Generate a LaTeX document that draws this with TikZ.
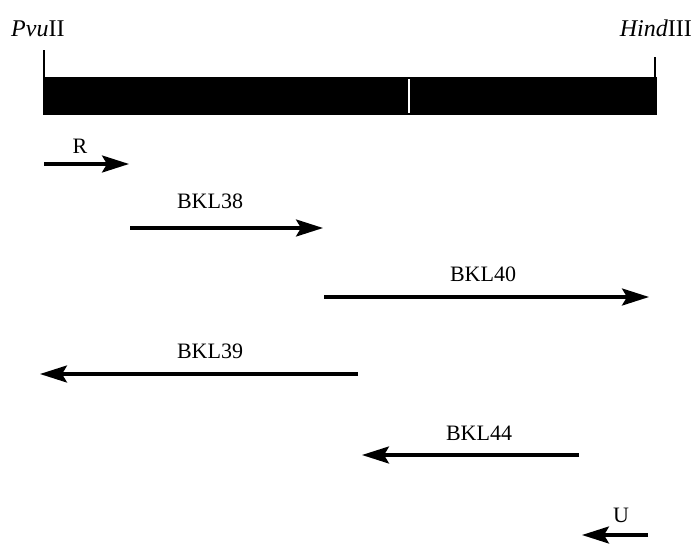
\documentclass[tikz,border=0pt]{standalone}
\usepackage{fontspec}
\setmainfont{Liberation Serif}
\usetikzlibrary{arrows.meta}
\begin{document}
\begin{tikzpicture}[x=1pt,y=-1pt,
  lbl/.style={inner sep=0pt,font=\fontsize{22}{24}\selectfont},
  site/.style={inner sep=0pt,font=\fontsize{24}{26}\selectfont},
  primer/.style={line width=3.2pt,-{Stealth[length=27pt,width=17pt,inset=5pt]}},
  tick/.style={line width=2.6pt}]
\useasboundingbox (0,0) rectangle (699,544);

% restriction fragment
\fill (43,77) rectangle (657,115);
\draw[white,line width=1.2pt] (409,79) -- (409,113);
\coordinate (pvutop) at (44,50);
\coordinate (pvubar) at (44,78);
\coordinate (hindtop) at (655,57);
\coordinate (hindbar) at (655,78);
\draw[tick] (pvutop) -- (pvubar);
\draw[tick] (hindtop) -- (hindbar);
\node[site,anchor=base west] (pvu) at (11,36) {\textit{Pvu}II};
\node[site,anchor=base east] (hind) at (692,36) {\textit{Hind}III};

% primers
\coordinate (r1) at (44,164);   \coordinate (r2) at (129,164);
\coordinate (a1) at (130,228);  \coordinate (a2) at (323,228);
\coordinate (b1) at (324,297);  \coordinate (b2) at (649,297);
\coordinate (c1) at (358,374);  \coordinate (c2) at (40,374);
\coordinate (d1) at (579,455);  \coordinate (d2) at (362,455);
\coordinate (u1) at (648,535);  \coordinate (u2) at (582,535);

\draw[primer] (r1) -- (r2);
\draw[primer] (a1) -- (a2);
\draw[primer] (b1) -- (b2);
\draw[primer] (c1) -- (c2);
\draw[primer] (d1) -- (d2);
\draw[primer] (u1) -- (u2);

\node[lbl] (rl) at (80,146) {R};
\node[lbl] (al) at (210,201) {BKL38};
\node[lbl] (bl) at (483,274) {BKL40};
\node[lbl] (cl) at (210,351) {BKL39};
\node[lbl] (dl) at (479,433) {BKL44};
\node[lbl] (ul) at (621,515) {U};
\end{tikzpicture}
\end{document}
